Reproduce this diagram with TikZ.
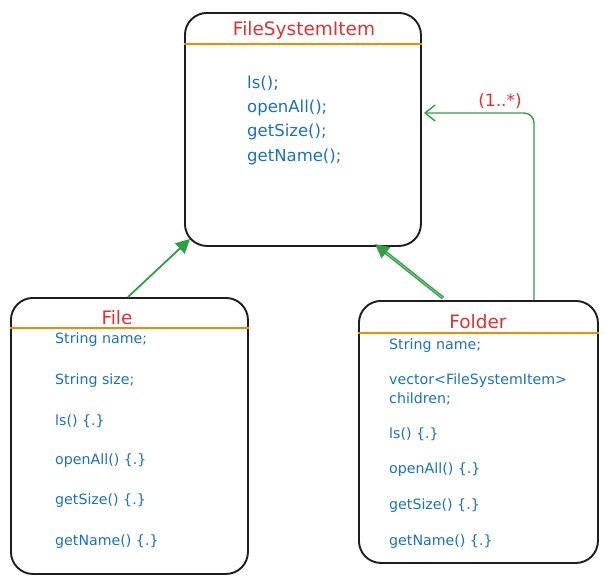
\documentclass[tikz,border=0pt]{standalone}
\usepackage{fontspec}
\setmainfont{DejaVu Sans}
\usetikzlibrary{arrows.meta}
\definecolor{ink}{HTML}{1E1E1E}
\definecolor{titlered}{HTML}{E03131}
\definecolor{codeblue}{HTML}{1971C2}
\definecolor{rulelight}{HTML}{F08C00}
\definecolor{linkgreen}{HTML}{2F9E44}
\begin{document}
\begin{tikzpicture}[x=1pt,y=-1pt,
  classbox/.style={draw=ink,line width=1.9pt,rounded corners=22pt,anchor=north west,inner sep=0pt},
  classtitle/.style={text=titlered,font=\fontsize{18.5}{20}\selectfont,anchor=center,inner sep=0pt},
  member/.style={text=codeblue,font=\fontsize{14.2}{15}\selectfont,anchor=west,inner sep=0pt},
  bigmember/.style={text=codeblue,font=\fontsize{16.5}{24.3}\selectfont,anchor=west,inner sep=0pt,align=left},
  divider/.style={draw=rulelight,line width=1.1pt},
  inherit/.style={draw=linkgreen,line width=1.8pt,-{Triangle[length=14pt,width=14pt]}},
  assoc/.style={draw=linkgreen,line width=1.4pt,rounded corners=10pt,-{Straight Barb[length=10pt,width=16pt]}},
  mult/.style={text=titlered,font=\fontsize{17}{18}\selectfont,inner sep=0pt}]
\useasboundingbox (0,0) rectangle (606,582);

% abstract base class
\node[classbox,minimum width=236pt,minimum height=233pt] (item) at (184,12) {};
\node[classtitle] (itemtitle) at (304,30) {FileSystemItem};
\draw[divider] (item.west |- 0,44) -- (item.east |- 0,44);
\node[bigmember] (itemops) at (247,120) {ls();\\openAll();\\getSize();\\getName();};

% File class
\node[classbox,minimum width=237pt,minimum height=276pt] (file) at (10,297) {};
\node[classtitle] (filetitle) at (117,318) {File};
\draw[divider] (file.west |- 0,328) -- (file.east |- 0,328);
\node[member] (f1) at (55,340) {String name;};
\node[member] (f2) at (55,381) {String size;};
\node[member] (f3) at (55,421) {ls() \{.\}};
\node[member] (f4) at (55,461) {openAll() \{.\}};
\node[member] (f5) at (55,501) {getSize() \{.\}};
\node[member] (f6) at (55,542) {getName() \{.\}};

% Folder class
\node[classbox,minimum width=239pt,minimum height=262pt] (folder) at (358,300) {};
\node[classtitle] (foldertitle) at (478,322) {Folder};
\draw[divider] (folder.west |- 0,333) -- (folder.east |- 0,333);
\node[member] (d1) at (389,346) {String name;};
\node[member] (d2) at (389,381) {vector<FileSystemItem>};
\node[member] (d3) at (389,399) {children;};
\node[member] (d4) at (389,434) {ls() \{.\}};
\node[member] (d5) at (389,470) {openAll() \{.\}};
\node[member] (d6) at (389,506) {getSize() \{.\}};
\node[member] (d7) at (389,542) {getName() \{.\}};

% connector end points on the box outlines
\coordinate (fileup) at (128,297);
\coordinate (itemfoot) at (190,239);
\coordinate (folderup) at (443,298);
\coordinate (itemfoot2) at (375,244);
\coordinate (folderlink) at (534,300);
\coordinate (itemside) at (424,113);

% generalisation arrows
\draw[inherit] (fileup) -- (itemfoot);
\draw[inherit,double=linkgreen!55,double distance=0.8pt,line width=1.3pt] (folderup) -- (itemfoot2);

% children association
\draw[assoc] (folderlink) |- (itemside);
\node[mult] (multlabel) at (500,101) {(1..*)};
\end{tikzpicture}
\end{document}
